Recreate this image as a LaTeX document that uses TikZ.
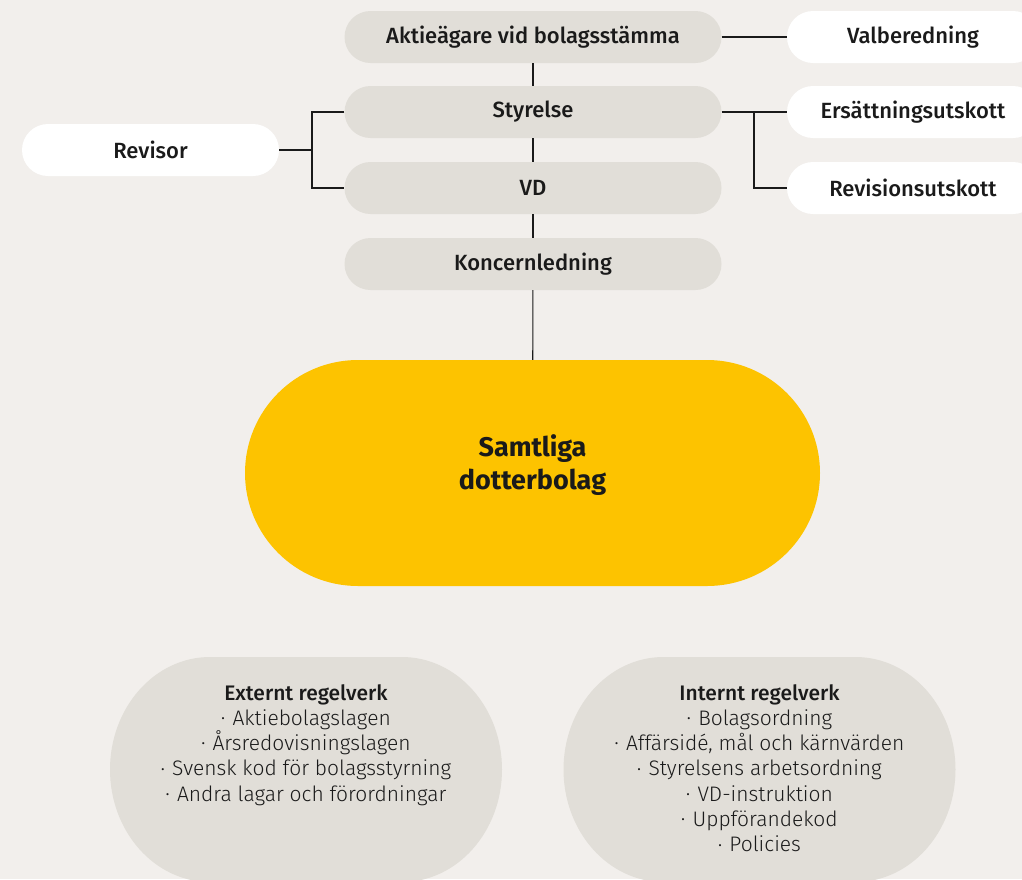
\documentclass[tikz,border=0pt]{standalone}
\usepackage{fontspec}
\setmainfont{Fira Sans}
\newfontfamily\medfont{Fira Sans Medium}
\newfontfamily\lightfont{Fira Sans Light}
\usepackage{tikz}

\definecolor{bgcol}{HTML}{F2EFEC}
\definecolor{boxgray}{HTML}{E1DED8}
\definecolor{gold}{HTML}{FDC300}
\definecolor{ink}{HTML}{1A1A1A}
\newcommand{\bul}{\raisebox{1.8pt}{\fontsize{14}{14}\selectfont•}\hspace{0.35em}}

\begin{document}
\begin{tikzpicture}[x=1pt, y=-1pt,
  every node/.style={text=ink, inner sep=0pt},
  graybox/.style={fill=boxgray, rounded corners=26pt, minimum width=377pt, minimum height=52pt, font=\medfont\fontsize{22}{24}\selectfont},
  whitebox/.style={fill=white, rounded corners=26pt, minimum width=257pt, minimum height=52pt, font=\medfont\fontsize{22}{24}\selectfont},
  listtext/.style={align=center, anchor=north, font=\lightfont\fontsize{21}{25.3}\selectfont},
  link/.style={draw=ink, line width=1.1pt}]
\useasboundingbox (0,0) rectangle (1022,879);
\clip (0,0) rectangle (1022,879);
\fill[bgcol] (0,0) rectangle (1022,879);
\node[graybox] (Stamma) at (533,37) {Aktieägare vid bolagsstämma};
\node[graybox] (Styrelse) at (533,112) {Styrelse};
\node[graybox] (VD) at (533,188) {VD};
\node[graybox] (Ledning) at (533,264) {Koncernledning};
\node[whitebox, minimum width=252pt] (Valb) at (913,37) {Valberedning};
\node[whitebox, minimum width=252pt] (Ersatt) at (913,112) {Ersättningsutskott};
\node[whitebox, minimum width=252pt] (Revut) at (913,188) {Revisionsutskott};
\node[whitebox] (Revisor) at (150.5,150) {Revisor};
\node[fill=gold, rounded corners=113pt, minimum width=575pt, minimum height=226pt] (Dotter) at (532.5,473) {};
\node[align=center, font=\bfseries\fontsize{27}{33}\selectfont] (DotterText) at (532.5,465) {Samtliga\\dotterbolag};
\coordinate (LJ) at (312,150);
\coordinate (RJ) at (754,112);
\draw[link] (Stamma) -- (Styrelse);
\draw[link] (Styrelse) -- (VD);
\draw[link] (VD) -- (Ledning);
\draw[link] (Ledning) -- (Dotter);
\draw[link] (Stamma.east) -- (Valb.west);
\draw[link] (Styrelse.east) -- (Ersatt.west);
\draw[link] (RJ) |- (Revut.west);
\draw[link] (Revisor.east) -- (LJ);
\draw[link] (Styrelse.west) -| (LJ) |- (VD.west);
% regelverk
\foreach \cx in {306,759.5}{
  \fill[boxgray] (\cx-96,657) -- (\cx+96,657)
    arc[start angle=-90, end angle=0, x radius=100, y radius=112.5]
    arc[start angle=0, end angle=90, x radius=100, y radius=112.5]
    -- (\cx-96,882)
    arc[start angle=90, end angle=180, x radius=100, y radius=112.5]
    arc[start angle=180, end angle=270, x radius=100, y radius=112.5] -- cycle;
}
\node[listtext] (Ext) at (306,684)
  {{\medfont Externt regelverk}\\
   \bul Aktiebolagslagen\\
   \bul Årsredovisningslagen\\
   \bul Svensk kod för bolagsstyrning\\
   \bul Andra lagar och förordningar};
\node[listtext] (Int) at (759.5,684)
  {{\medfont Internt regelverk}\\
   \bul Bolagsordning\\
   \bul Affärsidé, mål och kärnvärden\\
   \bul Styrelsens arbetsordning\\
   \bul VD-instruktion\\
   \bul Uppförandekod\\
   \bul Policies};
\end{tikzpicture}
\end{document}
